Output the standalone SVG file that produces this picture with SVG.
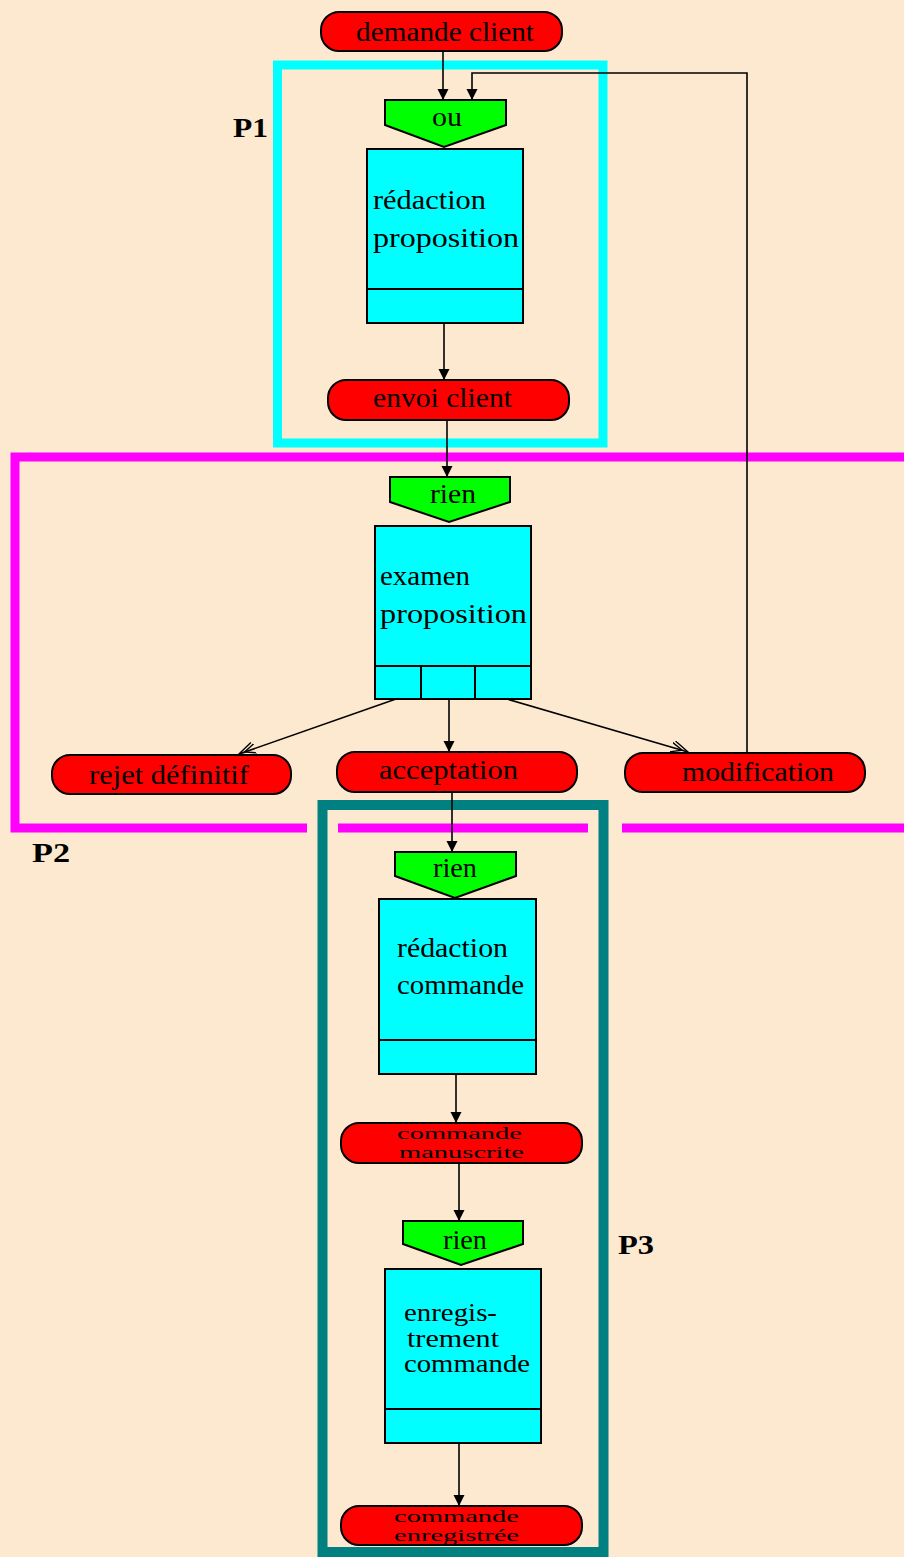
<svg xmlns="http://www.w3.org/2000/svg" width="904" height="1557" viewBox="0 0 904 1557">
<defs>
<style>
.t{font-family:"Liberation Serif","Times New Roman",serif;font-size:27px;fill:#000}
.s{font-size:17px}
.lbl{font-family:"Liberation Serif","Times New Roman",serif;font-size:28px;font-weight:bold;fill:#000}
.term{fill:#FF0000;stroke:#000;stroke-width:2}
.gate{fill:#00FF00;stroke:#000;stroke-width:2}
.act{fill:#00FFFF;stroke:#000;stroke-width:2}
.c{fill:none;stroke:#000;stroke-width:1.6}
.fr{fill:none}
</style>
<marker id="ah" markerUnits="userSpaceOnUse" markerWidth="12" markerHeight="12" refX="11" refY="5.5" orient="auto">
<path d="M0,0 L11,5.5 L0,11 Z" fill="#000"/>
</marker>
<marker id="oh" markerUnits="userSpaceOnUse" markerWidth="20" markerHeight="16" refX="17" refY="7" orient="auto">
<path d="M2,0 L17,7 L2,14 M-3,1 L11,7 L-3,13" fill="none" stroke="#000" stroke-width="1.4"/>
</marker>
</defs>
<rect x="0" y="0" width="904" height="1557" fill="#FCE9CF"/>

<g id="frames">
<rect id="frameP1" class="fr" x="277.5" y="65" width="325.5" height="378" stroke="#00FFFF" stroke-width="9"/>
<g id="frameP2" stroke="#FF00FF" stroke-width="9" fill="none">
<path d="M904,457 L15,457 L15,828 L307,828"/>
<path d="M338,828 L588,828"/>
<path d="M622,828 L904,828"/>
</g>
<rect id="frameP3" class="fr" x="322.5" y="805" width="281" height="747" stroke="#008080" stroke-width="10"/>
</g>

<g id="labels">
<text class="lbl" x="233" y="137" textLength="35" lengthAdjust="spacingAndGlyphs">P1</text>
<text class="lbl" x="32" y="862" textLength="38" lengthAdjust="spacingAndGlyphs">P2</text>
<text class="lbl" x="618" y="1254" textLength="36" lengthAdjust="spacingAndGlyphs">P3</text>
</g>

<g id="connectors">
<path class="c" d="M443,51 L443,100" marker-end="url(#ah)"/>
<path class="c" d="M747,753 L747,73 L472,73 L472,100" marker-end="url(#ah)"/>
<path class="c" d="M444,323 L444,380" marker-end="url(#ah)"/>
<path class="c" d="M447,420 L447,477" marker-end="url(#ah)"/>
<path class="c" d="M396,699 L239,754" marker-end="url(#oh)"/>
<path class="c" d="M449,699 L449,752" marker-end="url(#ah)"/>
<path class="c" d="M507,699 L688,752" marker-end="url(#oh)"/>
<path class="c" d="M452,792 L452,852" marker-end="url(#ah)"/>
<path class="c" d="M456,1074 L456,1123" marker-end="url(#ah)"/>
<path class="c" d="M459,1163 L459,1221" marker-end="url(#ah)"/>
<path class="c" d="M459,1443 L459,1506" marker-end="url(#ah)"/>
</g>

<g id="demande-client">
<rect class="term" x="321" y="12" width="241" height="39" rx="18"/>
<text class="t" x="356" y="41" textLength="178" lengthAdjust="spacingAndGlyphs">demande client</text>
</g>

<g id="ou">
<polygon class="gate" points="385,100 506,100 506,125 444,147 385,125"/>
<text class="t" x="432" y="126" textLength="30" lengthAdjust="spacingAndGlyphs">ou</text>
</g>

<g id="redaction-proposition">
<rect class="act" x="367" y="149" width="156" height="174"/>
<line x1="367" y1="289" x2="523" y2="289" stroke="#000" stroke-width="2"/>
<text class="t" x="373" y="209" textLength="113" lengthAdjust="spacingAndGlyphs">rédaction</text>
<text class="t" x="373" y="247" textLength="146" lengthAdjust="spacingAndGlyphs">proposition</text>
</g>

<g id="envoi-client">
<rect class="term" x="328" y="380" width="241" height="40" rx="18"/>
<text class="t" x="373" y="407" textLength="139" lengthAdjust="spacingAndGlyphs">envoi client</text>
</g>

<g id="rien-1">
<polygon class="gate" points="390,477 510,477 510,502 449,522 390,502"/>
<text class="t" x="430" y="503" textLength="46" lengthAdjust="spacingAndGlyphs">rien</text>
</g>

<g id="examen-proposition">
<rect class="act" x="375" y="526" width="156" height="173"/>
<line x1="375" y1="666" x2="531" y2="666" stroke="#000" stroke-width="2"/>
<line x1="421" y1="666" x2="421" y2="699" stroke="#000" stroke-width="2"/>
<line x1="475" y1="666" x2="475" y2="699" stroke="#000" stroke-width="2"/>
<text class="t" x="380" y="585" textLength="90" lengthAdjust="spacingAndGlyphs">examen</text>
<text class="t" x="380" y="623" textLength="147" lengthAdjust="spacingAndGlyphs">proposition</text>
</g>

<g id="rejet-definitif">
<rect class="term" x="52" y="755" width="239" height="39" rx="18"/>
<text class="t" x="89" y="784" textLength="160" lengthAdjust="spacingAndGlyphs">rejet définitif</text>
</g>

<g id="acceptation">
<rect class="term" x="337" y="752" width="240" height="40" rx="18"/>
<text class="t" x="379" y="779" textLength="139" lengthAdjust="spacingAndGlyphs">acceptation</text>
</g>

<g id="modification">
<rect class="term" x="625" y="753" width="240" height="39" rx="18"/>
<text class="t" x="682" y="781" textLength="152" lengthAdjust="spacingAndGlyphs">modification</text>
</g>

<g id="rien-2">
<polygon class="gate" points="395,852 516,852 516,876 455,898 395,876"/>
<text class="t" x="433" y="877" textLength="44" lengthAdjust="spacingAndGlyphs">rien</text>
</g>

<g id="redaction-commande">
<rect class="act" x="379" y="899" width="157" height="175"/>
<line x1="379" y1="1040" x2="536" y2="1040" stroke="#000" stroke-width="2"/>
<text class="t" x="397" y="957" textLength="111" lengthAdjust="spacingAndGlyphs">rédaction</text>
<text class="t" x="397" y="994" textLength="127" lengthAdjust="spacingAndGlyphs">commande</text>
</g>

<g id="commande-manuscrite">
<rect class="term" x="341" y="1123" width="241" height="40" rx="18"/>
<text class="t s" x="397" y="1139" textLength="125" lengthAdjust="spacingAndGlyphs">commande</text>
<text class="t s" x="399" y="1158" textLength="125" lengthAdjust="spacingAndGlyphs">manuscrite</text>
</g>

<g id="rien-3">
<polygon class="gate" points="403,1221 523,1221 523,1244 461,1265 403,1244"/>
<text class="t" x="443" y="1249" textLength="44" lengthAdjust="spacingAndGlyphs">rien</text>
</g>

<g id="enregistrement-commande">
<rect class="act" x="385" y="1269" width="156" height="174"/>
<line x1="385" y1="1409" x2="541" y2="1409" stroke="#000" stroke-width="2"/>
<text class="t" x="404" y="1321" textLength="93" lengthAdjust="spacingAndGlyphs" style="font-size:25px">enregis-</text>
<text class="t" x="407" y="1347" textLength="92" lengthAdjust="spacingAndGlyphs" style="font-size:25px">trement</text>
<text class="t" x="404" y="1372" textLength="126" lengthAdjust="spacingAndGlyphs" style="font-size:25px">commande</text>
</g>

<g id="commande-enregistree">
<rect class="term" x="341" y="1506" width="241" height="39" rx="18"/>
<text class="t s" x="394" y="1522" textLength="125" lengthAdjust="spacingAndGlyphs">commande</text>
<text class="t s" x="394" y="1541" textLength="125" lengthAdjust="spacingAndGlyphs">enregistrée</text>
</g>
</svg>
